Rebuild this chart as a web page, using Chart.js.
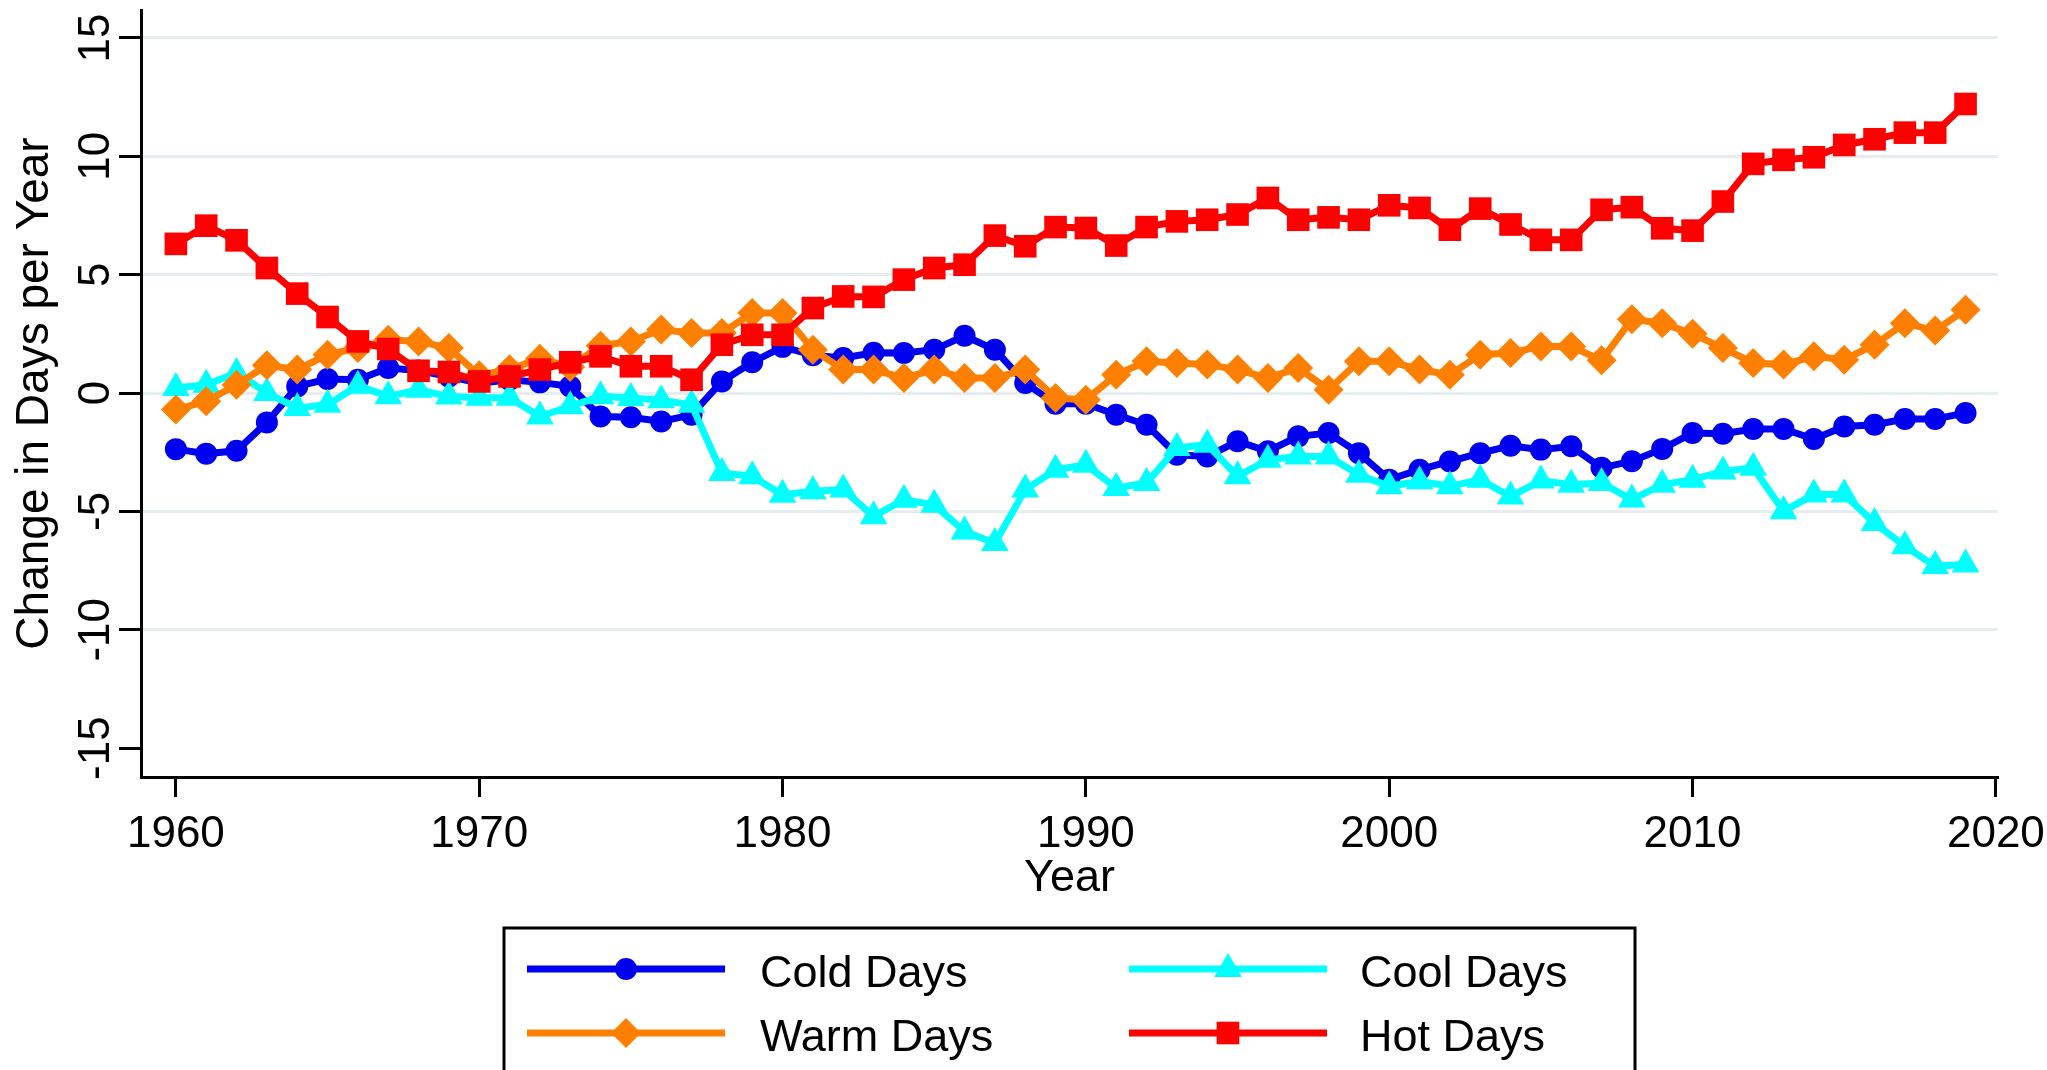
<!DOCTYPE html>
<html>
<head>
<meta charset="utf-8">
<title>Change in Days per Year</title>
<script src="https://cdn.jsdelivr.net/npm/chart.js@4.4.1/dist/chart.umd.min.js"></script>
<style>
  html, body { margin: 0; padding: 0; background: #fff; }
  canvas { display: block; }
</style>
</head>
<body>
<canvas id="daysChart" width="2047" height="1070"></canvas>
<script>
const years = [
  1960, 1961, 1962, 1963, 1964, 1965, 1966, 1967, 1968, 1969,
  1970, 1971, 1972, 1973, 1974, 1975, 1976, 1977, 1978, 1979,
  1980, 1981, 1982, 1983, 1984, 1985, 1986, 1987, 1988, 1989,
  1990, 1991, 1992, 1993, 1994, 1995, 1996, 1997, 1998, 1999,
  2000, 2001, 2002, 2003, 2004, 2005, 2006, 2007, 2008, 2009,
  2010, 2011, 2012, 2013, 2014, 2015, 2016, 2017, 2018, 2019
];

const coldDays = [
  -2.37, -2.56, -2.44, -1.24, 0.28, 0.59, 0.56, 1.06, 0.95, 0.70,
  0.42, 0.56, 0.45, 0.28, -0.99, -1.02, -1.20, -0.92, 0.49, 1.30,
  1.95, 1.60, 1.48, 1.70, 1.69, 1.83, 2.42, 1.83, 0.42, -0.45,
  -0.45, -0.92, -1.34, -2.61, -2.68, -2.04, -2.46, -1.83, -1.69, -2.54,
  -3.66, -3.24, -2.89, -2.54, -2.23, -2.39, -2.25, -3.16, -2.88, -2.36,
  -1.69, -1.72, -1.52, -1.52, -1.94, -1.41, -1.34, -1.10, -1.10, -0.84
];

const coolDays = [
  0.21, 0.35, 0.85, 0.00, -0.63, -0.49, 0.31, -0.14, 0.14, -0.15,
  -0.20, -0.20, -0.99, -0.56, -0.14, -0.21, -0.30, -0.50, -3.38, -3.52,
  -4.30, -4.15, -4.08, -5.21, -4.51, -4.72, -5.85, -6.34, -4.08, -3.24,
  -3.03, -4.01, -3.80, -2.32, -2.18, -3.52, -2.82, -2.68, -2.68, -3.45,
  -3.94, -3.73, -3.94, -3.66, -4.37, -3.70, -3.87, -3.80, -4.50, -3.87,
  -3.66, -3.31, -3.16, -4.99, -4.29, -4.29, -5.49, -6.47, -7.31, -7.24
];

const warmDays = [
  -0.70, -0.35, 0.35, 1.17, 0.99, 1.62, 1.90, 2.25, 2.18, 1.90,
  0.75, 1.00, 1.45, 1.10, 2.00, 2.18, 2.68, 2.54, 2.54, 3.38,
  3.38, 1.83, 0.99, 0.99, 0.63, 0.99, 0.63, 0.63, 0.99, -0.21,
  -0.28, 0.77, 1.34, 1.27, 1.20, 0.99, 0.63, 1.06, 0.14, 1.34,
  1.34, 0.99, 0.77, 1.62, 1.69, 1.97, 1.97, 1.38, 3.12, 2.95,
  2.50, 1.90, 1.27, 1.20, 1.55, 1.41, 2.04, 2.95, 2.64, 3.52
];

const hotDays = [
  6.30, 7.07, 6.45, 5.28, 4.20, 3.21, 2.18, 1.86, 0.94, 0.89,
  0.49, 0.70, 0.99, 1.30, 1.55, 1.13, 1.13, 0.56, 2.04, 2.46,
  2.46, 3.59, 4.08, 4.06, 4.79, 5.28, 5.42, 6.65, 6.20, 7.01,
  6.97, 6.23, 7.01, 7.25, 7.32, 7.54, 8.24, 7.32, 7.42, 7.32,
  7.93, 7.82, 6.90, 7.79, 7.12, 6.47, 6.47, 7.74, 7.85, 6.96,
  6.86, 8.09, 9.68, 9.85, 9.96, 10.48, 10.72, 11.00, 11.00, 12.21
];

const seriesNames = ['Cold Days', 'Cool Days', 'Warm Days', 'Hot Days'];
const seriesValues = [coldDays, coolDays, warmDays, hotDays];

const xTickValues = [1960, 1970, 1980, 1990, 2000, 2010, 2020];
const yTickValues = [-15, -10, -5, 0, 5, 10, 15];

// line colour and marker for each series, same order as seriesNames
const seriesStyles = [
  { color: '#0000F0', pointStyle: 'circle', radius: 11 },
  { color: '#00FFFF', pointStyle: 'triangle', radius: 16 },
  { color: '#FF8000', pointStyle: 'rectRot', radius: 15 },
  { color: '#FF0000', pointStyle: 'rect', radius: 16 }
];

const fontFamily = '"Liberation Sans", Arial, Helvetica, sans-serif';
Chart.defaults.font.family = fontFamily;
Chart.defaults.color = '#000';

// boxed two-column legend under the x axis
const legendBox = {
  id: 'legendBox',
  afterDraw(chart) {
    const ctx = chart.ctx;
    const lineX = [527, 1129];
    const textX = [760, 1360];
    const rowY = [969, 1033];
    const sampleLen = 198;

    ctx.save();
    ctx.lineWidth = 3;
    ctx.strokeStyle = '#000';
    ctx.strokeRect(504, 928, 1131, 170);

    seriesNames.forEach((name, i) => {
      const style = seriesStyles[i];
      const col = i % 2;
      const y = rowY[Math.floor(i / 2)];

      ctx.beginPath();
      ctx.lineWidth = 7;
      ctx.strokeStyle = style.color;
      ctx.moveTo(lineX[col], y);
      ctx.lineTo(lineX[col] + sampleLen, y);
      ctx.stroke();

      ctx.fillStyle = style.color;
      Chart.helpers.drawPoint(ctx, {
        pointStyle: style.pointStyle,
        radius: style.radius,
        rotation: 0,
        borderWidth: 0
      }, lineX[col] + sampleLen / 2, y);

      ctx.fillStyle = '#000';
      ctx.font = '45px ' + fontFamily;
      ctx.textAlign = 'left';
      ctx.textBaseline = 'alphabetic';
      ctx.fillText(name, textX[col], y + 18);
    });
    ctx.restore();
  }
};

const datasets = seriesNames.map((name, i) => {
  const style = seriesStyles[i];
  return {
    label: name,
    data: years.map((yr, k) => ({ x: yr, y: seriesValues[i][k] })),
    borderColor: style.color,
    backgroundColor: style.color,
    borderWidth: 7,
    tension: 0,
    fill: false,
    pointStyle: style.pointStyle,
    pointRadius: style.radius,
    pointBackgroundColor: style.color,
    pointBorderColor: style.color,
    pointBorderWidth: 0,
    order: seriesNames.length - i
  };
});

new Chart(document.getElementById('daysChart'), {
  type: 'line',
  data: { datasets: datasets },
  options: {
    responsive: false,
    animation: false,
    devicePixelRatio: 1,
    events: [],
    layout: {
      autoPadding: false,
      padding: { left: 0, top: 10, right: 49, bottom: 133 }
    },
    plugins: {
      legend: { display: false },
      tooltip: { enabled: false }
    },
    scales: {
      x: {
        type: 'linear',
        min: 1958.85,
        max: 2020.07,
        afterBuildTicks: scale => { scale.ticks = xTickValues.map(v => ({ value: v })); },
        afterFit: scale => {
          scale.height = 160;
          scale.paddingLeft = 0;
          scale.paddingRight = 0;
        },
        border: { color: '#000', width: 3 },
        grid: {
          drawOnChartArea: false,
          drawTicks: true,
          tickLength: 20,
          tickWidth: 3,
          tickColor: '#000'
        },
        ticks: {
          autoSkip: false,
          maxRotation: 0,
          padding: 11,
          color: '#000',
          font: { size: 44 },
          callback: v => String(v)
        },
        title: {
          display: true,
          text: 'Year',
          color: '#000',
          font: { size: 45 },
          padding: { top: 0, bottom: 31 }
        }
      },
      y: {
        min: -16.22,
        max: 16.18,
        afterBuildTicks: scale => { scale.ticks = yTickValues.map(v => ({ value: v })); },
        afterFit: scale => {
          scale.width = 141;
          scale.paddingTop = 0;
          scale.paddingBottom = 0;
        },
        border: { color: '#000', width: 3 },
        grid: {
          color: c => (c.tick && c.tick.value === -15) ? 'rgba(0,0,0,0)' : '#E6EDF0',
          lineWidth: 3,
          drawTicks: true,
          tickLength: 22,
          tickWidth: 3,
          tickColor: '#000'
        },
        ticks: {
          autoSkip: false,
          minRotation: 90,
          maxRotation: 90,
          crossAlign: 'center',
          padding: -10,
          color: '#000',
          font: { size: 44 },
          callback: v => String(v)
        },
        title: {
          display: true,
          text: 'Change in Days per Year',
          color: '#000',
          font: { size: 46 },
          padding: { top: 8, bottom: 0 }
        }
      }
    }
  },
  plugins: [legendBox]
});
</script>
</body>
</html>
